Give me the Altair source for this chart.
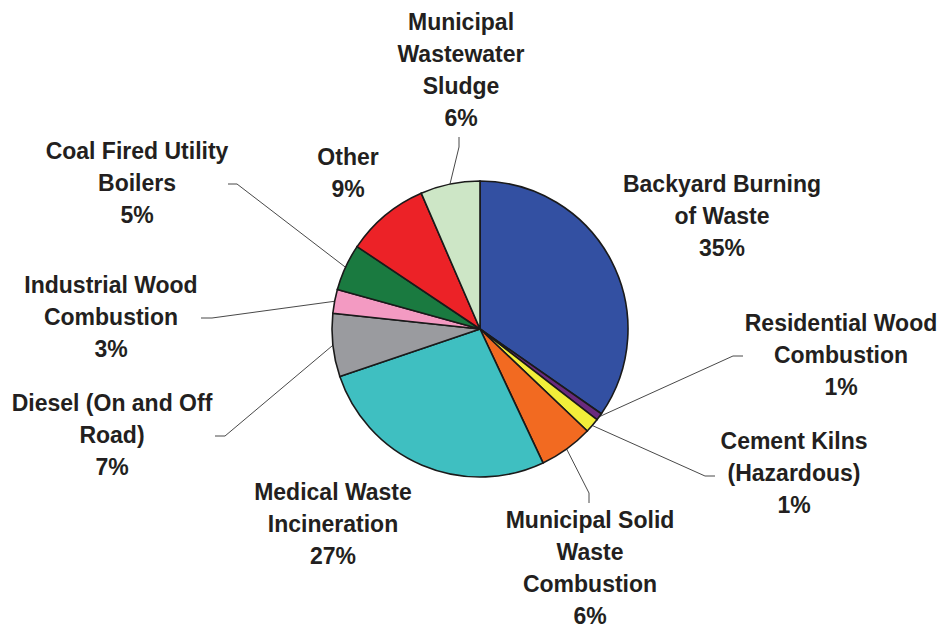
import altair as alt
import pandas as pd
import numpy as np

# ---- data ----
categories = [
    "Backyard Burning of Waste", "Residential Wood Combustion", "Cement Kilns (Hazardous)",
    "Municipal Solid Waste Combustion", "Medical Waste Incineration", "Diesel (On and Off Road)",
    "Industrial Wood Combustion", "Coal Fired Utility Boilers", "Other",
    "Municipal Wastewater Sludge",
]
shares = [34.7, 0.8, 1.6, 5.9, 26.8, 6.9, 2.6, 5.1, 9.1, 6.5]
pct_text = ["35%", "1%", "1%", "6%", "27%", "7%", "3%", "5%", "9%", "6%"]
label_lines = [
    ["Backyard Burning", "of Waste"],
    ["Residential Wood", "Combustion"],
    ["Cement Kilns", "(Hazardous)"],
    ["Municipal Solid", "Waste", "Combustion"],
    ["Medical Waste", "Incineration"],
    ["Diesel (On and Off", "Road)"],
    ["Industrial Wood", "Combustion"],
    ["Coal Fired Utility", "Boilers"],
    ["Other"],
    ["Municipal", "Wastewater", "Sludge"],
]
colors = ["#3350A2", "#6A2A7E", "#F2EE3A", "#F26A21", "#3FBFC1",
          "#9A9B9F", "#F39AC2", "#1A7A40", "#EC2227", "#CDE6C6"]

# label anchors (page px): centre x, first-line baseline y
label_x = [722, 841, 794, 590, 333, 112, 111, 137, 348, 461]
label_y = [192, 331, 449, 528, 500, 411, 293, 159, 165, 30]

# leader lines: elbow and end points (page px); None = no leader
elbow_x = [None, 733, 705, 589, None, 225, 212, 237, None, 459]
elbow_y = [None, 356, 476, 493, None, 436, 318, 184, None, 147]
end_x = [None, 743, 715, 589, None, 215, 201, 228, None, 459]
end_y = [None, 356, 476, 503, None, 436, 318, 184, None, 137]

# ---- layout ----
W, H = 930, 623
OFF = 8
CX, CY, R = 480, 329, 148

df = pd.DataFrame({"cat": categories, "share": shares, "order": list(range(len(categories)))})

xs = alt.Scale(domain=[OFF, OFF + W], nice=False, zero=False)
ys = alt.Scale(domain=[OFF, OFF + H], nice=False, zero=False, reverse=True)

pie = alt.Chart(df).mark_arc(outerRadius=R, stroke="#1a1a1a", strokeWidth=1.6).encode(
    theta=alt.Theta("share:Q", stack=True),
    order=alt.Order("order:Q"),
    color=alt.Color("cat:N", scale=alt.Scale(domain=categories, range=colors), legend=None),
    x=alt.value(CX - OFF),
    y=alt.value(CY - OFF),
)

# leader segments, start point derived from slice mid-angle
cum = np.cumsum([0] + shares)
segs = []
for i in range(len(categories)):
    if elbow_x[i] is None:
        continue
    mid = (cum[i] + cum[i + 1]) / 2 / sum(shares) * 2 * np.pi
    sx = CX + R * np.sin(mid)
    sy = CY - R * np.cos(mid)
    segs.append({"x": sx, "y": sy, "x2": elbow_x[i], "y2": elbow_y[i]})
    segs.append({"x": elbow_x[i], "y": elbow_y[i], "x2": end_x[i], "y2": end_y[i]})
seg_df = pd.DataFrame(segs)

leaders = alt.Chart(seg_df).mark_rule(color="#333333", strokeWidth=0.9).encode(
    x=alt.X("x:Q", scale=xs, axis=None),
    y=alt.Y("y:Q", scale=ys, axis=None),
    x2="x2:Q",
    y2="y2:Q",
)

lab_df = pd.DataFrame({
    "lx": label_x,
    "ly": label_y,
    "txt": [lines + [p] for lines, p in zip(label_lines, pct_text)],
})

labels = alt.Chart(lab_df).mark_text(
    font="Liberation Sans", fontWeight="bold", fontSize=23, lineHeight=32,
    align="center", baseline="alphabetic", color="#231f20",
).encode(
    x=alt.X("lx:Q", scale=xs, axis=None),
    y=alt.Y("ly:Q", scale=ys, axis=None),
    text="txt",
)

chart = alt.layer(leaders, pie, labels).properties(
    width=W, height=H, autosize=alt.AutoSizeParams(type="none"), padding=0,
    background="white",
).configure_view(stroke=None)

chart.save("out.html", embed_options={"renderer": "svg", "actions": False})
